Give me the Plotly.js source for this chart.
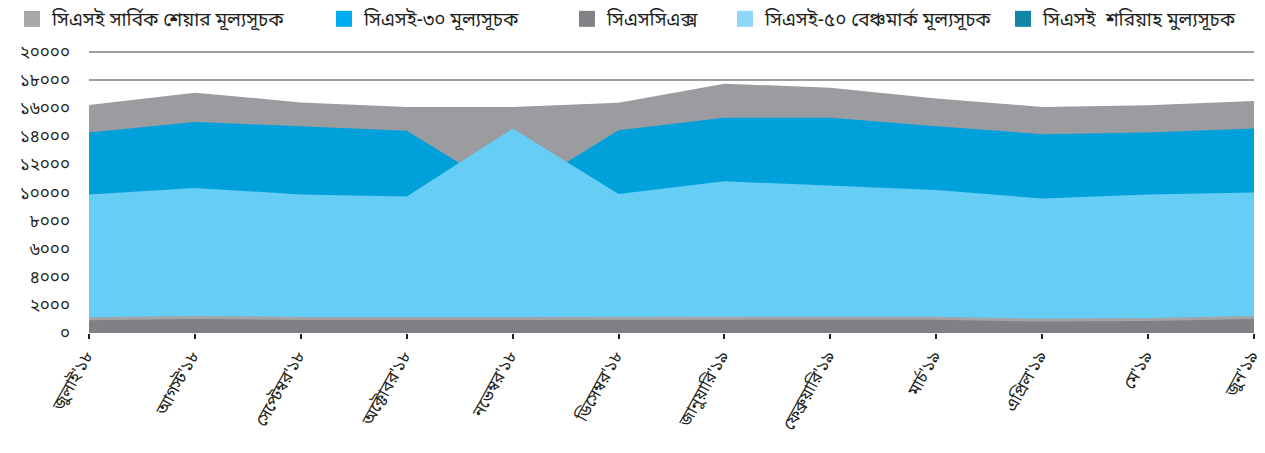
<!DOCTYPE html>
<html>
<head>
<meta charset="utf-8">
<script src="https://cdn.plot.ly/plotly-3.0.1.min.js"></script>
<style>html,body{margin:0;padding:0;background:#fff;}#chart{width:1265px;height:453px;}</style>
</head>
<body>
<div id="chart"></div>
<script>
// ---- data ----
const months = ["জুলাই'১৮","আগস্ট'১৮","সেপ্টেম্বর'১৮","অক্টোবর'১৮","নভেম্বর'১৮","ডিসেম্বর'১৮","জানুয়ারি'১৯","ফেব্রুয়ারি'১৯","মার্চ'১৯","এপ্রিল'১৯","মে'১৯","জুন'১৯"];
const seriesNames = ["সিএসই সার্বিক শেয়ার মূল্যসূচক","সিএসই-৩০ মূল্যসূচক","সিএসসিএক্স","সিএসই-৫০ বেঞ্চমার্ক মূল্যসূচক","সিএসই  শরিয়াহ মুল্যসূচক"];
const caspi   = [16240,17110,16420,16100,16100,16400,17750,17470,16690,16100,16210,16520];
const cse30   = [14280,15030,14720,14400, 9790,14430,15320,15320,14730,14160,14280,14560];
const cse50   = [ 9860,10330, 9860, 9720,14560, 9890,10800,10500,10190, 9570, 9860,10000];
const cscx    = [ 1010, 1100, 1030, 1030, 1030, 1030, 1060, 1060, 1050,  920,  960, 1100];
const shariah = [  880,  900,  890,  880,  870,  880,  900,  900,  890,  860,  870,  890];
const yTickVals = [0,2000,4000,6000,8000,10000,12000,14000,16000,18000,20000];
const yTickText = ["০","২০০০","৪০০০","৬০০০","৮০০০","১০০০০","১২০০০","১৪০০০","১৬০০০","১৮০০০","২০০০০"];

// ---- styles ----
const FONT = "'Noto Sans Bengali','Noto Serif Bengali','Lohit Bengali','FreeSans','Noto Sans',sans-serif";
const areaColors = {caspi:'#9b9ca0', cse30:'#00a0db', cscx:'#808185', cse50:'#66cdf5', shariah:'#13819f'};
const legendColors = ['#a7a8ab','#00aeef','#808285','#8dd8f8','#1384a4'];

function area(y, color, extra) {
  return Object.assign({
    type:'scatter', mode:'lines', x: months, y: y, fill:'tozeroy',
    fillcolor: color, line:{width:0, color: color}, showlegend:false, hoverinfo:'skip'
  }, extra || {});
}

const traces = [
  area(caspi, areaColors.caspi),
  area(cse30, areaColors.cse30),
  area(cse50, areaColors.cse50),
  area(shariah, areaColors.shariah),
  area(cscx, areaColors.cscx, {line:{width:3, color:'#a3a4a7'}})
];

const legendNames = ['legend','legend2','legend3','legend4','legend5'];
seriesNames.forEach((n,i)=>{
  traces.push({
    type:'scatter', mode:'markers', x:[null], y:[null], name:n,
    marker:{symbol:'square', size:18, color:legendColors[i]},
    legend: legendNames[i], showlegend:true, hoverinfo:'skip'
  });
});

const swatchPx = [12, 324, 567, 725, 1003];
const plotL = 89, plotW = 1265 - 89 - 11, plotT = 51, plotH = 282;
const layout = {
  width:1265, height:453,
  margin:{l:plotL, r:11, t:plotT, b:453-plotT-plotH, autoexpand:false},
  paper_bgcolor:'#ffffff', plot_bgcolor:'#ffffff',
  font:{family:FONT, color:'#231f20'},
  xaxis:{
    type:'category', range:[0,11], showgrid:false, showline:false, zeroline:false,
    ticks:'outside', ticklen:5, tickwidth:2, tickcolor:'#231f20',
    tickangle:-61, ticklabelshift:-3, tickfont:{size:17, family:FONT, color:'#231f20'}
  },
  yaxis:{
    range:[0,20080], tickmode:'array', tickvals:yTickVals, ticktext:yTickText,
    showgrid:true, gridcolor:'#9d9ea1', gridwidth:2, zeroline:false, showline:false,
    ticks:'', ticklabelstandoff:18, tickfont:{size:17, family:FONT, color:'#231f20'}
  },
  showlegend:true
};
legendNames.forEach((ln,i)=>{
  layout[ln] = {
    orientation:'h', x:(swatchPx[i]-plotL)/plotW, xanchor:'left',
    y:(plotT+plotH-19)/plotH, yanchor:'middle', bgcolor:'rgba(0,0,0,0)',
    font:{size:19, family:FONT, color:'#231f20'}
  };
});

Plotly.newPlot('chart', traces, layout, {displayModeBar:false, staticPlot:true});
</script>
</body>
</html>
